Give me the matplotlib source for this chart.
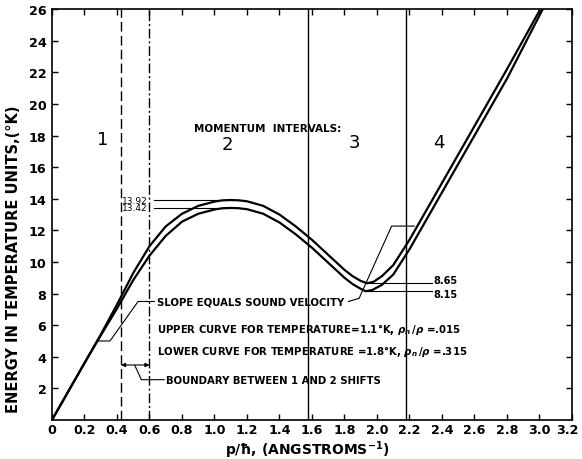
import matplotlib
matplotlib.use("Agg")
import matplotlib.pyplot as plt
from matplotlib.transforms import ScaledTranslation

# ---- data ----
p_upper = [0.0, 0.1, 0.2, 0.3, 0.4, 0.5, 0.6, 0.7, 0.8, 0.9, 1.0, 1.05, 1.1, 1.15, 1.2,
           1.3, 1.4, 1.5, 1.6, 1.7, 1.8, 1.85, 1.9, 1.94, 1.98, 2.03, 2.1, 2.2, 2.4,
           2.6, 2.8, 3.0]
e_upper = [0.0, 1.8, 3.6, 5.4, 7.3, 9.3, 11.0, 12.25, 13.05, 13.55, 13.82, 13.9, 13.92,
           13.9, 13.84, 13.55, 13.0, 12.25, 11.4, 10.45, 9.5, 9.1, 8.8, 8.65, 8.75, 9.1,
           9.8, 11.4, 15.0, 18.6, 22.2, 25.9]
p_lower = [0.0, 0.1, 0.2, 0.3, 0.4, 0.5, 0.6, 0.7, 0.8, 0.9, 1.0, 1.05, 1.1, 1.15, 1.2,
           1.3, 1.4, 1.5, 1.6, 1.7, 1.8, 1.85, 1.9, 1.93, 1.97, 2.03, 2.1, 2.2, 2.4,
           2.6, 2.8, 3.02]
e_lower = [0.0, 1.8, 3.6, 5.35, 7.05, 8.85, 10.4, 11.65, 12.55, 13.05, 13.32, 13.4, 13.42,
           13.4, 13.34, 13.05, 12.5, 11.75, 10.9, 9.95, 9.0, 8.6, 8.3, 8.15, 8.22, 8.55,
           9.2, 10.8, 14.4, 18.0, 21.6, 26.0]
boundaries = [0.425, 0.60, 1.575, 2.18]
x_ticks = [0, 0.2, 0.4, 0.6, 0.8, 1.0, 1.2, 1.4, 1.6, 1.8, 2.0, 2.2, 2.4, 2.6, 2.8, 3.0, 3.2]
x_labels = ["0", "0.2", "0.4", "0.6", "0.8", "1.0", "1.2", "1.4", "1.6", "1.8", "2.0",
            "2.2", "2.4", "2.6", "2.8", "3.0", "3.2"]
y_ticks = [2, 4, 6, 8, 10, 12, 14, 16, 18, 20, 22, 24, 26]
interval_labels = ["1", "2", "3", "4"]
interval_x = [0.31, 1.08, 1.86, 2.38]
interval_y = [17.8, 17.45, 17.6, 17.6]
peak_values = [13.92, 13.42]
peak_x = [1.12, 1.11]
min_values = [8.65, 8.15]
min_x = [1.94, 1.93]

plt.rcParams['font.family'] = ['DejaVu Sans']
plt.rcParams['font.weight'] = 'bold'

fig = plt.figure(figsize=(5.82, 4.60), dpi=100)
ax = fig.add_axes([0.0893, 0.0848, 0.8935, 0.8932])
ax.set_xlim(0, 3.2)
ax.set_ylim(0, 26)

ax.plot(p_upper, e_upper, color='black', lw=1.6, solid_joinstyle='round')
ax.plot(p_lower, e_lower, color='black', lw=1.6, solid_joinstyle='round')

styles = [(0, (7, 3)), (0, (7, 2, 1.5, 2)), '-', '-']
for xb, ls in zip(boundaries, styles):
    ax.axvline(xb, color='black', lw=1.0, linestyle=ls)

for lab, xi, yi in zip(interval_labels, interval_x, interval_y):
    ax.text(xi, yi, lab, fontsize=13, ha='center', va='center', fontweight='normal')
ax.text(1.33, 18.5, "MOMENTUM  INTERVALS:", fontsize=7.5, ha='center', va='center')

# peak labels
for val, px in zip(peak_values, peak_x):
    ax.text(0.512, val, f"{val:.2f}", fontsize=6.5, ha='center', va='center',
            fontweight='normal')
    ax.plot([0.63, px], [val, val], color='black', lw=0.8)

# minimum labels
for val, mx, ty in zip(min_values, min_x, [8.85, 7.95]):
    ax.plot([mx, 2.34], [val, val], color='black', lw=0.8)
    ax.text(2.35, ty, f"{val:.2f}", fontsize=7, ha='left', va='center')

# slope leaders
ax.plot([0.63, 0.53, 0.357, 0.283], [7.5, 7.5, 5.0, 5.0], color='black', lw=0.8)
ax.plot([1.825, 1.89, 2.09, 2.23], [7.5, 7.7, 12.27, 12.27], color='black', lw=0.8)
ax.text(0.645, 7.5, "SLOPE EQUALS SOUND VELOCITY", fontsize=7.3, ha='left', va='center')
ax.text(0.645, 5.8, r"UPPER CURVE FOR TEMPERATURE=1.1°K, $\rho_n\,/\rho$ =.015",
        fontsize=7.3, ha='left', va='center')
ax.text(0.645, 4.4, r"LOWER CURVE FOR TEMPERATURE =1.8°K, $\rho_n\,/\rho$ =.315",
        fontsize=7.3, ha='left', va='center')

# boundary shift
ax.annotate("", xy=(0.425, 3.48), xytext=(0.60, 3.48),
            arrowprops=dict(arrowstyle='<|-|>', color='black', lw=0.8,
                            mutation_scale=6, shrinkA=0, shrinkB=0))
ax.plot([0.69, 0.55, 0.51], [2.55, 2.55, 3.45], color='black', lw=0.8)
ax.text(0.70, 2.55, "BOUNDARY BETWEEN 1 AND 2 SHIFTS", fontsize=7.3, ha='left',
        va='center')

ax.set_xticks(x_ticks)
ax.set_xticklabels(x_labels)
ax.set_yticks(y_ticks)
ax.set_yticklabels([str(v) for v in y_ticks])
ax.tick_params(direction='in', length=4, width=1, top=True, right=True,
               labelsize=9.2)
ax.tick_params(axis='x', pad=2)
ax.tick_params(axis='y', pad=4)
for lbl in ax.get_xticklabels() + ax.get_yticklabels():
    lbl.set_fontweight('bold')
last = ax.get_xticklabels()[-1]
last.set_transform(last.get_transform() + ScaledTranslation(-3 / 72, 0, fig.dpi_scale_trans))
for s in ax.spines.values():
    s.set_linewidth(1.2)

ax.set_xlabel("p/ħ, (ANGSTROMS$^{\\mathbf{-1}}$)", fontsize=10, fontweight='bold')
ax.xaxis.set_label_coords(0.49, -0.071, transform=ax.transAxes)
ax.xaxis.label.set_va('center')
ax.set_ylabel("ENERGY IN TEMPERATURE UNITS,(°K)", fontsize=10.5, fontweight='bold')
ax.yaxis.set_label_coords(-0.06, 0.394)

fig.savefig("out.png", dpi=100)
